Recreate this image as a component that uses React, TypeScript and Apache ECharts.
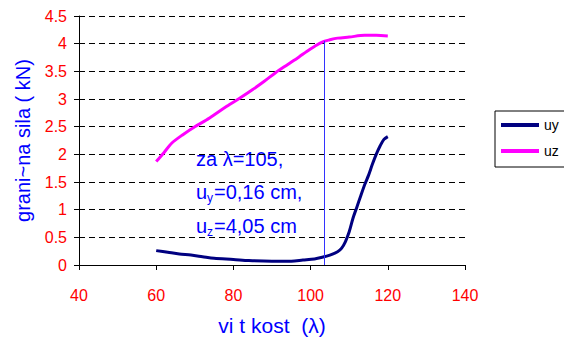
import React, { useEffect, useRef } from "react";
import * as echarts from "echarts";

const xTicks = [40, 60, 80, 100, 120, 140];
const uyX = [60, 63, 66, 69, 72, 75, 80, 84, 90, 95, 98, 101, 103, 105, 107, 108, 109, 110, 111, 112, 113, 114, 115, 116, 117, 118, 119, 120];
const uyY = [0.26, 0.23, 0.2, 0.18, 0.15, 0.12, 0.1, 0.08, 0.07, 0.07, 0.09, 0.11, 0.14, 0.18, 0.24, 0.3, 0.42, 0.6, 0.85, 1.05, 1.25, 1.45, 1.62, 1.82, 2.0, 2.15, 2.27, 2.32];
const uzX = [60, 62, 64, 67, 70, 73, 76, 79, 82, 85, 88, 91, 94, 97, 99, 101, 103, 105, 107, 110, 114, 117, 120];
const uzY = [1.87, 2.03, 2.2, 2.36, 2.5, 2.62, 2.76, 2.9, 3.03, 3.17, 3.32, 3.48, 3.62, 3.76, 3.86, 3.95, 4.03, 4.07, 4.1, 4.12, 4.15, 4.15, 4.14];
const markX = 103.5;
const markY = 4.05;

export default function App() {
  const ref = useRef<HTMLDivElement>(null);
  useEffect(() => {
    const chart = echarts.init(ref.current!, undefined, { renderer: "svg" });
    const font = "'Liberation Sans', Arial, sans-serif";
    const blue = "#0000FF";
    const txt = (text: string, left: number, top: number, size: number) => ({
      type: "text",
      left,
      top,
      style: { text, fill: blue, font: `${size}px ${font}` },
    });
    chart.setOption({
      animation: false,
      textStyle: { fontFamily: font },
      grid: { left: 79, right: 99, top: 16, bottom: 79 },
      legend: {
        orient: "vertical",
        left: 495,
        top: 111,
        width: 64,
        padding: [7, 14, 9, 6],
        itemGap: 12,
        itemWidth: 38,
        itemHeight: 4,
        icon: "rect",
        borderColor: "#000",
        borderWidth: 1,
        textStyle: { color: "#000", fontSize: 14, fontFamily: font },
        data: ["uy", "uz"],
      },
      xAxis: {
        type: "value",
        min: xTicks[0],
        max: xTicks[xTicks.length - 1],
        interval: 20,
        name: "vi t kost  (λ)",
        nameLocation: "middle",
        nameGap: 50,
        nameTextStyle: { color: blue, fontSize: 21, fontFamily: font },
        axisLine: { show: true, lineStyle: { color: "#000", width: 1 } },
        axisTick: { show: true, length: 5, lineStyle: { color: "#000" } },
        axisLabel: { color: "#FF0000", fontSize: 16, margin: 22, fontFamily: font },
        splitLine: { show: false },
      },
      yAxis: {
        type: "value",
        min: 0,
        max: 4.5,
        interval: 0.5,
        name: "grani~na sila ( kN)",
        nameLocation: "middle",
        nameGap: 46,
        nameTextStyle: { color: blue, fontSize: 20, fontFamily: font },
        axisLine: { show: true, lineStyle: { color: "#000", width: 1 } },
        axisTick: { show: true, length: 5, lineStyle: { color: "#000" } },
        axisLabel: { color: "#FF0000", fontSize: 16, margin: 12, fontFamily: font },
        splitLine: { show: true, lineStyle: { color: "#000", type: [6, 4], width: 1 } },
      },
      series: [
        {
          name: "uy",
          type: "line",
          data: uyX.map((x, i) => [x, uyY[i]]),
          showSymbol: false,
          smooth: 0.3,
          lineStyle: { color: "#000080", width: 3 },
          itemStyle: { color: "#000080" },
        },
        {
          name: "uz",
          type: "line",
          data: uzX.map((x, i) => [x, uzY[i]]),
          showSymbol: false,
          smooth: 0.3,
          lineStyle: { color: "#FF00FF", width: 3 },
          itemStyle: { color: "#FF00FF" },
          markLine: {
            silent: true,
            symbol: "none",
            label: { show: false },
            lineStyle: { color: "#3333FF", width: 1, type: "solid" },
            data: [[{ coord: [markX, 0] }, { coord: [markX, markY] }]],
          },
        },
      ],
      graphic: [
        txt("za λ=105,", 196, 149, 20),
        txt("u", 196, 182, 20),
        txt("y", 207, 192, 12),
        txt("=0,16 cm,", 214, 182, 20),
        txt("u", 196, 216, 20),
        txt("z", 207, 226, 12),
        txt("=4,05 cm", 214, 216, 20),
      ],
    });
    return () => chart.dispose();
  }, []);
  return <div ref={ref} style={{ width: 564, height: 344, position: "absolute", left: 0, top: 0 }} />;
}
